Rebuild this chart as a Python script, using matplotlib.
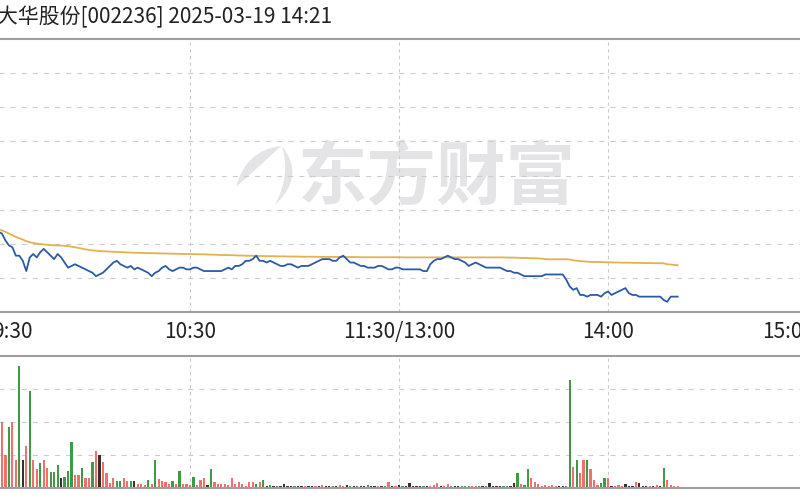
import numpy as np
import matplotlib.pyplot as plt
from matplotlib import transforms
from matplotlib.path import Path
from matplotlib.patches import PathPatch

plt.rcParams['font.family'] = ['Noto Sans CJK SC', 'DejaVu Sans']

# ---- data ----
title = "大华股份[002236] 2025-03-19 14:21"
watermark = "东方财富"
prev_close = 17.80
tick_minutes = [0, 60, 120, 180, 240]
tick_labels = ["9:30", "10:30", "11:30/13:00", "14:00", "15:00"]

# 分时价格 (minute 0 = 9:30)
price = [
    17.49, 17.50, 17.48, 17.47, 17.48, 17.47, 17.46, 17.42, 17.39, 17.38,
    17.33, 17.33, 17.30, 17.24, 17.32, 17.34, 17.32, 17.35, 17.37, 17.35,
    17.33, 17.31, 17.34, 17.32, 17.29, 17.26, 17.27, 17.28, 17.27, 17.26,
    17.25, 17.24, 17.23, 17.21, 17.22, 17.23, 17.25, 17.27, 17.29, 17.30,
    17.28, 17.27, 17.26, 17.27, 17.25, 17.26, 17.25, 17.24, 17.23, 17.21,
    17.23, 17.24, 17.26, 17.27, 17.25, 17.24, 17.25, 17.26, 17.26, 17.25,
    17.25, 17.26, 17.26, 17.25, 17.24, 17.24, 17.24, 17.24, 17.24, 17.24,
    17.25, 17.26, 17.25, 17.27, 17.27, 17.28, 17.30, 17.30, 17.31, 17.33,
    17.30, 17.30, 17.29, 17.30, 17.29, 17.28, 17.27, 17.27, 17.28, 17.28,
    17.27, 17.26, 17.27, 17.27, 17.27, 17.28, 17.29, 17.30, 17.31, 17.31,
    17.31, 17.30, 17.30, 17.32, 17.33, 17.31, 17.29, 17.29, 17.28, 17.27,
    17.27, 17.26, 17.26, 17.26, 17.27, 17.27, 17.26, 17.25, 17.25, 17.26,
    17.26, 17.25, 17.25, 17.25, 17.25, 17.25, 17.25, 17.24, 17.24, 17.28,
    17.30, 17.31, 17.31, 17.32, 17.33, 17.32, 17.31, 17.31, 17.30, 17.29,
    17.27, 17.28, 17.29, 17.28, 17.27, 17.26, 17.26, 17.26, 17.26, 17.26,
    17.25, 17.24, 17.24, 17.23, 17.23, 17.22, 17.21, 17.21, 17.21, 17.21,
    17.21, 17.21, 17.22, 17.22, 17.22, 17.22, 17.22, 17.22, 17.19, 17.15,
    17.13, 17.14, 17.10, 17.10, 17.09, 17.10, 17.10, 17.10, 17.09, 17.11,
    17.12, 17.10, 17.11, 17.12, 17.13, 17.14, 17.11, 17.10, 17.10, 17.09,
    17.09, 17.09, 17.09, 17.09, 17.09, 17.09, 17.07, 17.06, 17.09, 17.09,
    17.09,
]

# 均价
avg_price = [
    17.495, 17.497, 17.493, 17.489, 17.487, 17.484, 17.478, 17.470, 17.460, 17.450,
    17.440, 17.432, 17.425, 17.415, 17.409, 17.404, 17.401, 17.398, 17.396, 17.394,
    17.392, 17.391, 17.390, 17.389, 17.388, 17.386, 17.383, 17.379, 17.375, 17.371,
    17.367, 17.364, 17.361, 17.359, 17.357, 17.356, 17.355, 17.354, 17.353, 17.352,
    17.351, 17.350, 17.349, 17.348, 17.347, 17.347, 17.346, 17.346, 17.345, 17.345,
    17.344, 17.344, 17.343, 17.343, 17.342, 17.342, 17.341, 17.341, 17.340, 17.340,
    17.340, 17.339, 17.339, 17.338, 17.338, 17.337, 17.336, 17.336, 17.335, 17.334,
    17.334, 17.333, 17.333, 17.332, 17.331, 17.331, 17.330, 17.330, 17.329, 17.329,
    17.328, 17.328, 17.327, 17.327, 17.327, 17.326, 17.326, 17.326, 17.325, 17.325,
    17.325, 17.325, 17.324, 17.324, 17.324, 17.324, 17.324, 17.323, 17.323, 17.323,
    17.323, 17.323, 17.323, 17.322, 17.322, 17.322, 17.322, 17.322, 17.322, 17.321,
    17.321, 17.321, 17.321, 17.321, 17.321, 17.321, 17.321, 17.321, 17.321, 17.321,
    17.321, 17.320, 17.320, 17.320, 17.320, 17.320, 17.320, 17.320, 17.320, 17.320,
    17.320, 17.320, 17.320, 17.320, 17.320, 17.320, 17.320, 17.320, 17.320, 17.320,
    17.320, 17.320, 17.320, 17.320, 17.320, 17.320, 17.320, 17.320, 17.320, 17.320,
    17.320, 17.319, 17.319, 17.319, 17.318, 17.317, 17.317, 17.316, 17.315, 17.315,
    17.314, 17.313, 17.310, 17.309, 17.309, 17.309, 17.309, 17.309, 17.309, 17.308,
    17.303, 17.301, 17.298, 17.297, 17.295, 17.294, 17.293, 17.293, 17.293, 17.292,
    17.291, 17.291, 17.290, 17.290, 17.289, 17.289, 17.289, 17.288, 17.288, 17.288,
    17.287, 17.287, 17.287, 17.286, 17.286, 17.286, 17.285, 17.280, 17.278, 17.276,
    17.274,
]

# 成交量 (手)
volume = [
    4800, 3100, 2300, 2600, 1800, 2100, 4000, 2000, 3700, 4000,
    1700, 7400, 1700, 2550, 5900, 1700, 1150, 1500, 1700, 1200,
    970, 970, 1400, 600, 670, 1030, 2800, 800, 800, 1200,
    600, 600, 1580, 2250, 2000, 1580, 900, 300, 600, 420,
    420, 600, 420, 420, 420, 240, 240, 180, 485, 240,
    1700, 550, 420, 360, 240, 420, 240, 1030, 240, 240,
    180, 670, 180, 485, 600, 180, 1150, 364, 240, 240,
    240, 180, 600, 240, 364, 240, 120, 364, 364, 240,
    364, 485, 150, 180, 120, 150, 120, 240, 120, 120,
    150, 120, 120, 150, 120, 120, 150, 120, 180, 120,
    120, 150, 120, 180, 150, 180, 120, 120, 150, 120,
    120, 180, 120, 120, 150, 120, 120, 364, 150, 120,
    180, 150, 120, 300, 120, 150, 120, 150, 120, 150,
    180, 300, 150, 120, 240, 120, 120, 120, 150, 120,
    120, 150, 120, 120, 120, 150, 300, 120, 120, 120,
    120, 150, 120, 300, 909, 240, 180, 1150, 600, 364,
    240, 120, 180, 120, 180, 120, 120, 120, 150, 6545,
    1273, 1700, 900, 1700, 1700, 1150, 485, 180, 300, 600,
    600, 120, 120, 180, 120, 240, 120, 120, 364, 300,
    120, 120, 120, 150, 180, 120, 1200, 485, 180, 120,
    120,
]

# 1 = 上涨, -1 = 下跌, 0 = 平
direction = [
    0, -1, -1, -1, 1, -1, 1, 1, -1, 1,
    1, -1, 0, 1, -1, 1, 1, -1, 1, 1,
    -1, -1, -1, 0, -1, -1, -1, 1, 1, -1,
    1, 1, -1, 1, 0, 1, 1, 1, 1, -1,
    -1, 1, 1, -1, 0, 1, 1, 1, -1, 1,
    -1, 1, 1, 1, 1, -1, 1, -1, 1, 1,
    1, -1, 1, 1, 1, 0, -1, 1, 1, 1,
    1, 1, 1, 1, 1, 1, 1, 1, 1, -1,
    1, -1, 0, -1, 0, -1, 0, 0, 0, 0,
    -1, 0, 0, 1, 0, 0, 1, 0, 1, 0,
    0, -1, 0, 1, 1, 0, -1, 0, -1, 0,
    0, -1, 0, 0, 1, 0, -1, 1, 0, 1,
    0, -1, 0, 0, 0, 0, 0, -1, 0, 1,
    1, 1, 0, 1, 1, -1, 0, 0, -1, -1,
    -1, 1, 1, -1, 0, -1, 0, 0, 0, 0,
    -1, -1, 0, 0, -1, 1, -1, -1, 1, 1,
    1, 1, 1, 1, 1, 1, 0, 0, -1, -1,
    1, -1, 1, 1, -1, 1, 1, 1, -1, -1,
    1, 0, 1, 1, 1, 0, 0, 0, 1, 0,
    0, 0, 1, 0, 1, 0, -1, 1, 1, 1,
    1,
]

minutes = np.arange(len(price))
bar_colors = {1: '#f0706b', -1: '#3f9a48', 0: '#3b3029'}

W, H = 800, 500
fig = plt.figure(figsize=(W / 100, H / 100), dpi=100)

# panels (pixel boxes measured on the reference)
ax_p = fig.add_axes([-19 / W, 1 - 312 / H, 836 / W, 273 / H])
ax_v = fig.add_axes([-19 / W, 1 - 488 / H, 836 / W, 132 / H])

for ax in (ax_p, ax_v):
    ax.set_xlim(tick_minutes[0], tick_minutes[-1])
    ax.spines['left'].set_visible(False)
    ax.spines['right'].set_visible(False)
    for side in ('top', 'bottom'):
        ax.spines[side].set_color('#9e9e9e')
        ax.spines[side].set_linewidth(1.5)
    ax.set_xticks(tick_minutes[1:-1])
    ax.tick_params(left=False, bottom=False, labelleft=False, labelbottom=False)
    ax.yaxis.grid(True, linestyle=(0, (4.5, 5.5)), color='#cccccc', linewidth=0.8)
    ax.xaxis.grid(True, linestyle=(0, (3, 3)), color='#cccccc', linewidth=0.8)

ax_p.set_ylim(prev_close - 0.8, prev_close + 0.8)
ax_p.set_yticks(prev_close + 0.2 * np.arange(-3, 4))
ax_v.set_ylim(0, 8000)
ax_v.set_yticks([2000, 4000, 6000])

# watermark
pix = transforms.Affine2D().scale(1 / W, -1 / H).translate(0, 1) + fig.transFigure
ax_p.text(437, 178, watermark, transform=pix, ha='center', va='center',
          fontsize=50, fontweight='bold', color='#e4e4e7', zorder=0)
leaf = Path([(236, 187), (246, 150), (281, 146), (262, 164), (236, 187)],
            [Path.MOVETO, Path.CURVE3, Path.CURVE3, Path.CURVE3, Path.CURVE3])
stroke = Path([(282, 146), (306, 176), (275, 205), (291, 175), (282, 146)],
              [Path.MOVETO, Path.CURVE3, Path.CURVE3, Path.CURVE3, Path.CURVE3])
for shape in (leaf, stroke):
    ax_p.add_patch(PathPatch(shape, transform=pix, facecolor='#e4e4e7',
                             edgecolor='none', zorder=0))

# price + average
ax_p.plot(minutes, avg_price, color='#e2b24c', linewidth=1.3, zorder=2)
ax_p.plot(minutes, price, color='#2c5ba6', linewidth=1.3, zorder=3)

# volume
ax_v.bar(minutes, volume, width=0.65, color=[bar_colors[d] for d in direction],
         linewidth=0, zorder=2)

# time labels between the panels
trans = transforms.blended_transform_factory(ax_p.transData, fig.transFigure)
for i, (m, lab) in enumerate(zip(tick_minutes, tick_labels)):
    ha, dx = 'center', 0
    if i == 0:
        ha, dx = 'left', 8
    elif i == len(tick_minutes) - 1:
        ha, dx = 'right', -2
    ax_p.annotate(lab, xy=(m, 1 - 338 / H), xycoords=trans, xytext=(dx, 0),
                  textcoords='offset points', ha=ha, va='baseline',
                  fontsize=15, color='#222222', annotation_clip=False)

fig.text(-3 / W, 1 - 23 / H, title, ha='left', va='baseline',
         fontsize=15, color='#222222')

fig.savefig('out.png', dpi=100)
